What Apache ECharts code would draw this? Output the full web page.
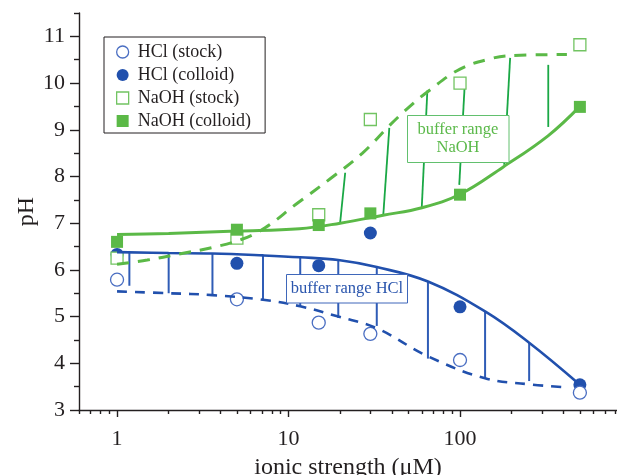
<!DOCTYPE html>
<html>
<head>
<meta charset="utf-8">
<script src="https://cdn.jsdelivr.net/npm/echarts@6/dist/echarts.min.js"></script>
<style>
html,body{margin:0;padding:0;background:#fff;}
#chart{width:617px;height:475px;}
</style>
</head>
<body>
<div id="chart"></div>
<script>
// ---- data ----
const ionicStrength = [1, 5, 15, 30, 100, 500];
const hclStock    = [5.79, 5.37, 4.87, 4.63, 4.07, 3.37];
const hclColloid  = [6.33, 6.14, 6.09, 6.79, 5.21, 3.54];
const naohStock   = [6.25, 6.68, 7.18, 9.22, 10.0, 10.82];
const naohColloid = [6.6, 6.86, 6.96, 7.21, 7.61, 9.49];

// fitted curves
const hclColloidFitX = [1, 2, 3.6, 7.1, 11.7, 19.5, 32.7, 65, 140, 253, 500];
const hclColloidFitY = [6.38, 6.36, 6.35, 6.31, 6.27, 6.21, 6.06, 5.75, 5.11, 4.44, 3.54];
const hclStockFitX   = [1, 2, 3.6, 7.1, 11.7, 19.5, 32.7, 65, 140, 253, 400];
const hclStockFitY   = [5.54, 5.50, 5.46, 5.36, 5.22, 5.0, 4.75, 4.15, 3.68, 3.55, 3.49];
const naohColloidFitX = [1, 2, 5, 11.6, 20, 35.6, 60, 100, 178, 326, 500];
const naohColloidFitY = [6.76, 6.78, 6.83, 6.88, 7.0, 7.17, 7.33, 7.62, 8.2, 8.87, 9.5];
const naohStockFitX = [1, 1.5, 2.3, 3.6, 5.3, 7.3, 11, 17.5, 27, 39, 51, 65, 100, 150, 200, 420];
const naohStockFitY = [6.12, 6.21, 6.34, 6.48, 6.65, 6.9, 7.4, 7.95, 8.5, 9.1, 9.5, 9.82, 10.3, 10.52, 10.59, 10.61];

// buffer-range drop lines
const hclDropX      = [1.18, 2, 3.6, 7.1, 11.7, 19.5, 32.7, 65, 140, 253];
const hclDropTop    = [6.38, 6.36, 6.35, 6.31, 6.27, 6.21, 6.06, 5.75, 5.11, 4.44];
const hclDropBottom = [5.66, 5.50, 5.46, 5.36, 5.22, 4.97, 4.8, 4.1, 3.68, 3.62];
const naohDropTopX    = [21.4, 38.7, 64.5, 107, 196, 327];
const naohDropTop     = [8.08, 9.04, 9.84, 10.1, 10.54, 10.39];
const naohDropBottomX = [20.0, 35.7, 59.8, 99, 181, 327];
const naohDropBottom  = [7.01, 7.18, 7.32, 7.82, 8.25, 9.06];

// axis ticks
const xMajorTicks = [1, 10, 100];
const xMinorTicks = [0.6, 0.7, 0.8, 0.9, 2, 3, 4, 5, 6, 7, 8, 9, 20, 30, 40, 50, 60, 70, 80, 90, 200, 300, 400, 500, 600, 700, 800];
const yMajorTicks = [3, 4, 5, 6, 7, 8, 9, 10, 11];
const yMinorTicks = [3.5, 4.5, 5.5, 6.5, 7.5, 8.5, 9.5, 10.5, 11.5];

// ---- styling ----
const AX = '#231f20';
const BLUE = '#2150ad';
const BLUE_OPEN = '#4a6ec2';
const BLUE_DROP = '#2f5cb6';
const GREEN = '#5bb947';
const GREEN_OPEN = '#72c462';
const GREEN_DROP = '#1aa845';
const FONT = '"Liberation Serif", "Times New Roman", serif';
const SQUARE = 'path://M0 0H10V10H0Z';

const zip = (xs, ys) => xs.map((x, i) => [x, ys[i]]);

function dropSeries(xt, yt, xb, yb, color, width) {
  return {
    type: 'custom',
    silent: true,
    z: 1,
    data: xt.map((x, i) => [x, yt[i], xb[i], yb[i]]),
    encode: { x: [0, 2], y: [1, 3] },
    renderItem: function (params, api) {
      const p1 = api.coord([api.value(0), api.value(1)]);
      const p2 = api.coord([api.value(2), api.value(3)]);
      return {
        type: 'line',
        shape: { x1: p1[0], y1: p1[1], x2: p2[0], y2: p2[1] },
        style: { stroke: color, lineWidth: width }
      };
    }
  };
}

const chart = echarts.init(document.getElementById('chart'), null, { renderer: 'canvas' });
const axisLineStyle = { color: AX, width: 1.4 };

const option = {
  animation: false,
  backgroundColor: '#fff',
  grid: { left: 79, right: 0, top: 13, bottom: 65, containLabel: false, outerBoundsMode: 'none' },
  xAxis: [
    {
      type: 'log', logBase: 10, min: 0.6, max: 823, position: 'bottom',
      axisLine: { show: true, lineStyle: axisLineStyle },
      axisTick: { show: true, customValues: xMajorTicks, length: 7, inside: false, lineStyle: axisLineStyle },
      axisLabel: { customValues: xMajorTicks, formatter: v => String(Math.round(v)), margin: 18,
        fontFamily: FONT, fontSize: 22, color: AX },
      splitLine: { show: false },
      name: 'ionic strength (\u03bcM)', nameLocation: 'middle', nameGap: 46, nameMoveOverlap: false,
      nameTextStyle: { fontFamily: FONT, fontSize: 24, color: AX }
    },
    {
      type: 'log', logBase: 10, min: 0.6, max: 823, position: 'bottom',
      axisLine: { show: false },
      axisTick: { show: true, customValues: xMinorTicks, length: 4, inside: false, lineStyle: axisLineStyle },
      axisLabel: { show: false },
      splitLine: { show: false }
    }
  ],
  yAxis: [
    {
      type: 'value', min: 3, max: 11.5, position: 'left',
      axisLine: { show: true, lineStyle: axisLineStyle },
      axisTick: { show: true, customValues: yMajorTicks, length: 9, inside: false, lineStyle: axisLineStyle },
      axisLabel: { customValues: yMajorTicks, margin: 14, fontFamily: FONT, fontSize: 22, color: AX },
      splitLine: { show: false },
      name: 'pH', nameLocation: 'middle', nameGap: 40, nameRotate: 90, nameMoveOverlap: false,
      nameTextStyle: { fontFamily: FONT, fontSize: 24, color: AX }
    },
    {
      type: 'value', min: 3, max: 11.5, position: 'left',
      axisLine: { show: false },
      axisTick: { show: true, customValues: yMinorTicks, length: 5, inside: false, lineStyle: axisLineStyle },
      axisLabel: { show: false },
      splitLine: { show: false }
    }
  ],
  legend: {
    orient: 'vertical', left: 104, top: 37,
    padding: [6, 14, 3, 12], itemWidth: 20, itemHeight: 12, itemGap: 5,
    borderColor: AX, borderWidth: 1, backgroundColor: '#fff',
    textStyle: { fontFamily: FONT, fontSize: 18, color: AX },
    data: [
      { name: 'HCl (stock)', icon: 'circle', itemStyle: { color: '#fff', borderColor: BLUE_OPEN, borderWidth: 1.3 } },
      { name: 'HCl (colloid)', icon: 'circle', itemStyle: { color: BLUE } },
      { name: 'NaOH (stock)', icon: SQUARE, itemStyle: { color: '#fff', borderColor: GREEN_OPEN, borderWidth: 1.3 } },
      { name: 'NaOH (colloid)', icon: SQUARE, itemStyle: { color: GREEN } }
    ]
  },
  series: [
    dropSeries(hclDropX, hclDropTop, hclDropX, hclDropBottom, BLUE_DROP, 2),
    dropSeries(naohDropTopX, naohDropTop, naohDropBottomX, naohDropBottom, GREEN_DROP, 1.8),
    {
      name: 'HCl (colloid)', type: 'scatter', z: 2,
      data: zip(ionicStrength, hclColloid), symbol: 'circle', symbolSize: 13,
      itemStyle: { color: BLUE, opacity: 1 }
    },
    {
      name: 'HCl (stock)', type: 'scatter', z: 3,
      data: zip(ionicStrength, hclStock), symbol: 'circle', symbolSize: 13,
      itemStyle: { color: '#fff', borderColor: BLUE_OPEN, borderWidth: 1.3, opacity: 1 }
    },
    {
      name: 'NaOH (stock)', type: 'scatter', z: 3,
      data: zip(ionicStrength, naohStock), symbol: 'rect', symbolSize: 12,
      itemStyle: { color: '#fff', borderColor: GREEN_OPEN, borderWidth: 1.3, opacity: 1 }
    },
    {
      type: 'line', z: 4, silent: true, showSymbol: false, smooth: 0.4,
      data: zip(hclColloidFitX, hclColloidFitY),
      lineStyle: { color: BLUE, width: 2.6 }
    },
    {
      type: 'line', z: 4, silent: true, showSymbol: false, smooth: 0.4,
      data: zip(hclStockFitX, hclStockFitY),
      lineStyle: { color: BLUE, width: 2.6, type: [10, 8] }
    },
    {
      type: 'line', z: 4, silent: true, showSymbol: false, smooth: 0.4,
      data: zip(naohColloidFitX, naohColloidFitY),
      lineStyle: { color: GREEN, width: 3 }
    },
    {
      type: 'line', z: 4, silent: true, showSymbol: false, smooth: 0.4,
      data: zip(naohStockFitX, naohStockFitY),
      lineStyle: { color: GREEN, width: 3, type: [12, 9] }
    },
    {
      name: 'NaOH (colloid)', type: 'scatter', z: 5,
      data: zip(ionicStrength, naohColloid), symbol: 'rect', symbolSize: 12,
      itemStyle: { color: GREEN, opacity: 1 }
    }
  ],
  graphic: [
    { type: 'rect', z: 100, shape: { x: 286.5, y: 274.5, width: 121, height: 28.5 },
      style: { fill: '#fff', stroke: '#3f67ba', lineWidth: 1 } },
    { type: 'text', z: 101, x: 347, y: 289,
      style: { text: 'buffer range HCl', fill: '#2a55ad', font: '16.5px ' + FONT,
        textAlign: 'center', textVerticalAlign: 'middle' } },
    { type: 'rect', z: 100, shape: { x: 407.5, y: 115.5, width: 101.5, height: 47 },
      style: { fill: '#fff', stroke: '#62c06e', lineWidth: 1 } },
    { type: 'text', z: 101, x: 458, y: 139,
      style: { text: 'buffer range\nNaOH', fill: '#5bb94a', font: '16.5px ' + FONT, lineHeight: 18,
        textAlign: 'center', textVerticalAlign: 'middle' } }
  ]
};
chart.setOption(option);
</script>
</body>
</html>
